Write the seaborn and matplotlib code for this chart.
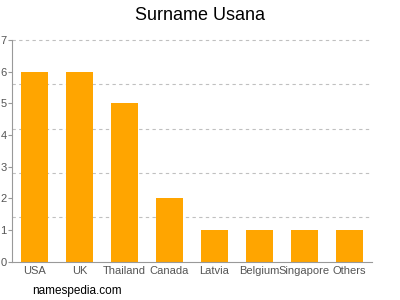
import matplotlib
matplotlib.use("Agg")
import matplotlib.pyplot as plt
import seaborn as sns
import pandas as pd
import numpy as np

countries = ["USA", "UK", "Thailand", "Canada", "Latvia", "Belgium", "Singapore", "Others"]
counts = [6, 6, 5, 2, 1, 1, 1, 1]
yticks = [0, 1, 2, 3, 4, 5, 6, 7]
title = "Surname Usana"
watermark = "namespedia.com"

sns.set_style("white")
plt.rcParams['font.family'] = ['Liberation Sans', 'DejaVu Sans']

df = pd.DataFrame({"country": countries, "count": counts})

fig = plt.figure(figsize=(4, 3), dpi=100)
ax = fig.add_axes([0.03, 0.127, 0.90, 0.74])
sns.barplot(data=df, x="country", y="count", color="#FFA500", width=0.62,
            saturation=1, linewidth=0, edgecolor="none", ax=ax)

ax.set_ylim(0, 7)
ax.set_xlim(-0.5, len(countries) - 0.5)
ax.set_yticks(yticks)
for gy in np.linspace(0, 7, 6)[1:]:
    ax.axhline(gy, linestyle=(0, (3, 3)), color="#c0c0c0", linewidth=0.8,
               zorder=0, clip_on=False)
ax.set_axisbelow(True)
ax.tick_params(axis="y", which="major", length=3, color="#999999", labelsize=8,
               labelcolor="#555555", pad=1, left=True)
ax.tick_params(axis="x", length=0, labelsize=8, labelcolor="#555555", pad=3)
ax.set_xlabel("")
ax.set_ylabel("")
for s in ["top", "right"]:
    ax.spines[s].set_visible(False)
for s in ["left", "bottom"]:
    ax.spines[s].set_color("#999999")
    ax.spines[s].set_linewidth(0.8)

fig.text(0.5, 0.95, title, ha="center", va="center", fontsize=13, color="#000000")
fig.text(0.08, 0.03, watermark, ha="left", va="center", fontsize=8.5, color="#000000")

fig.savefig("out.png", dpi=100)
